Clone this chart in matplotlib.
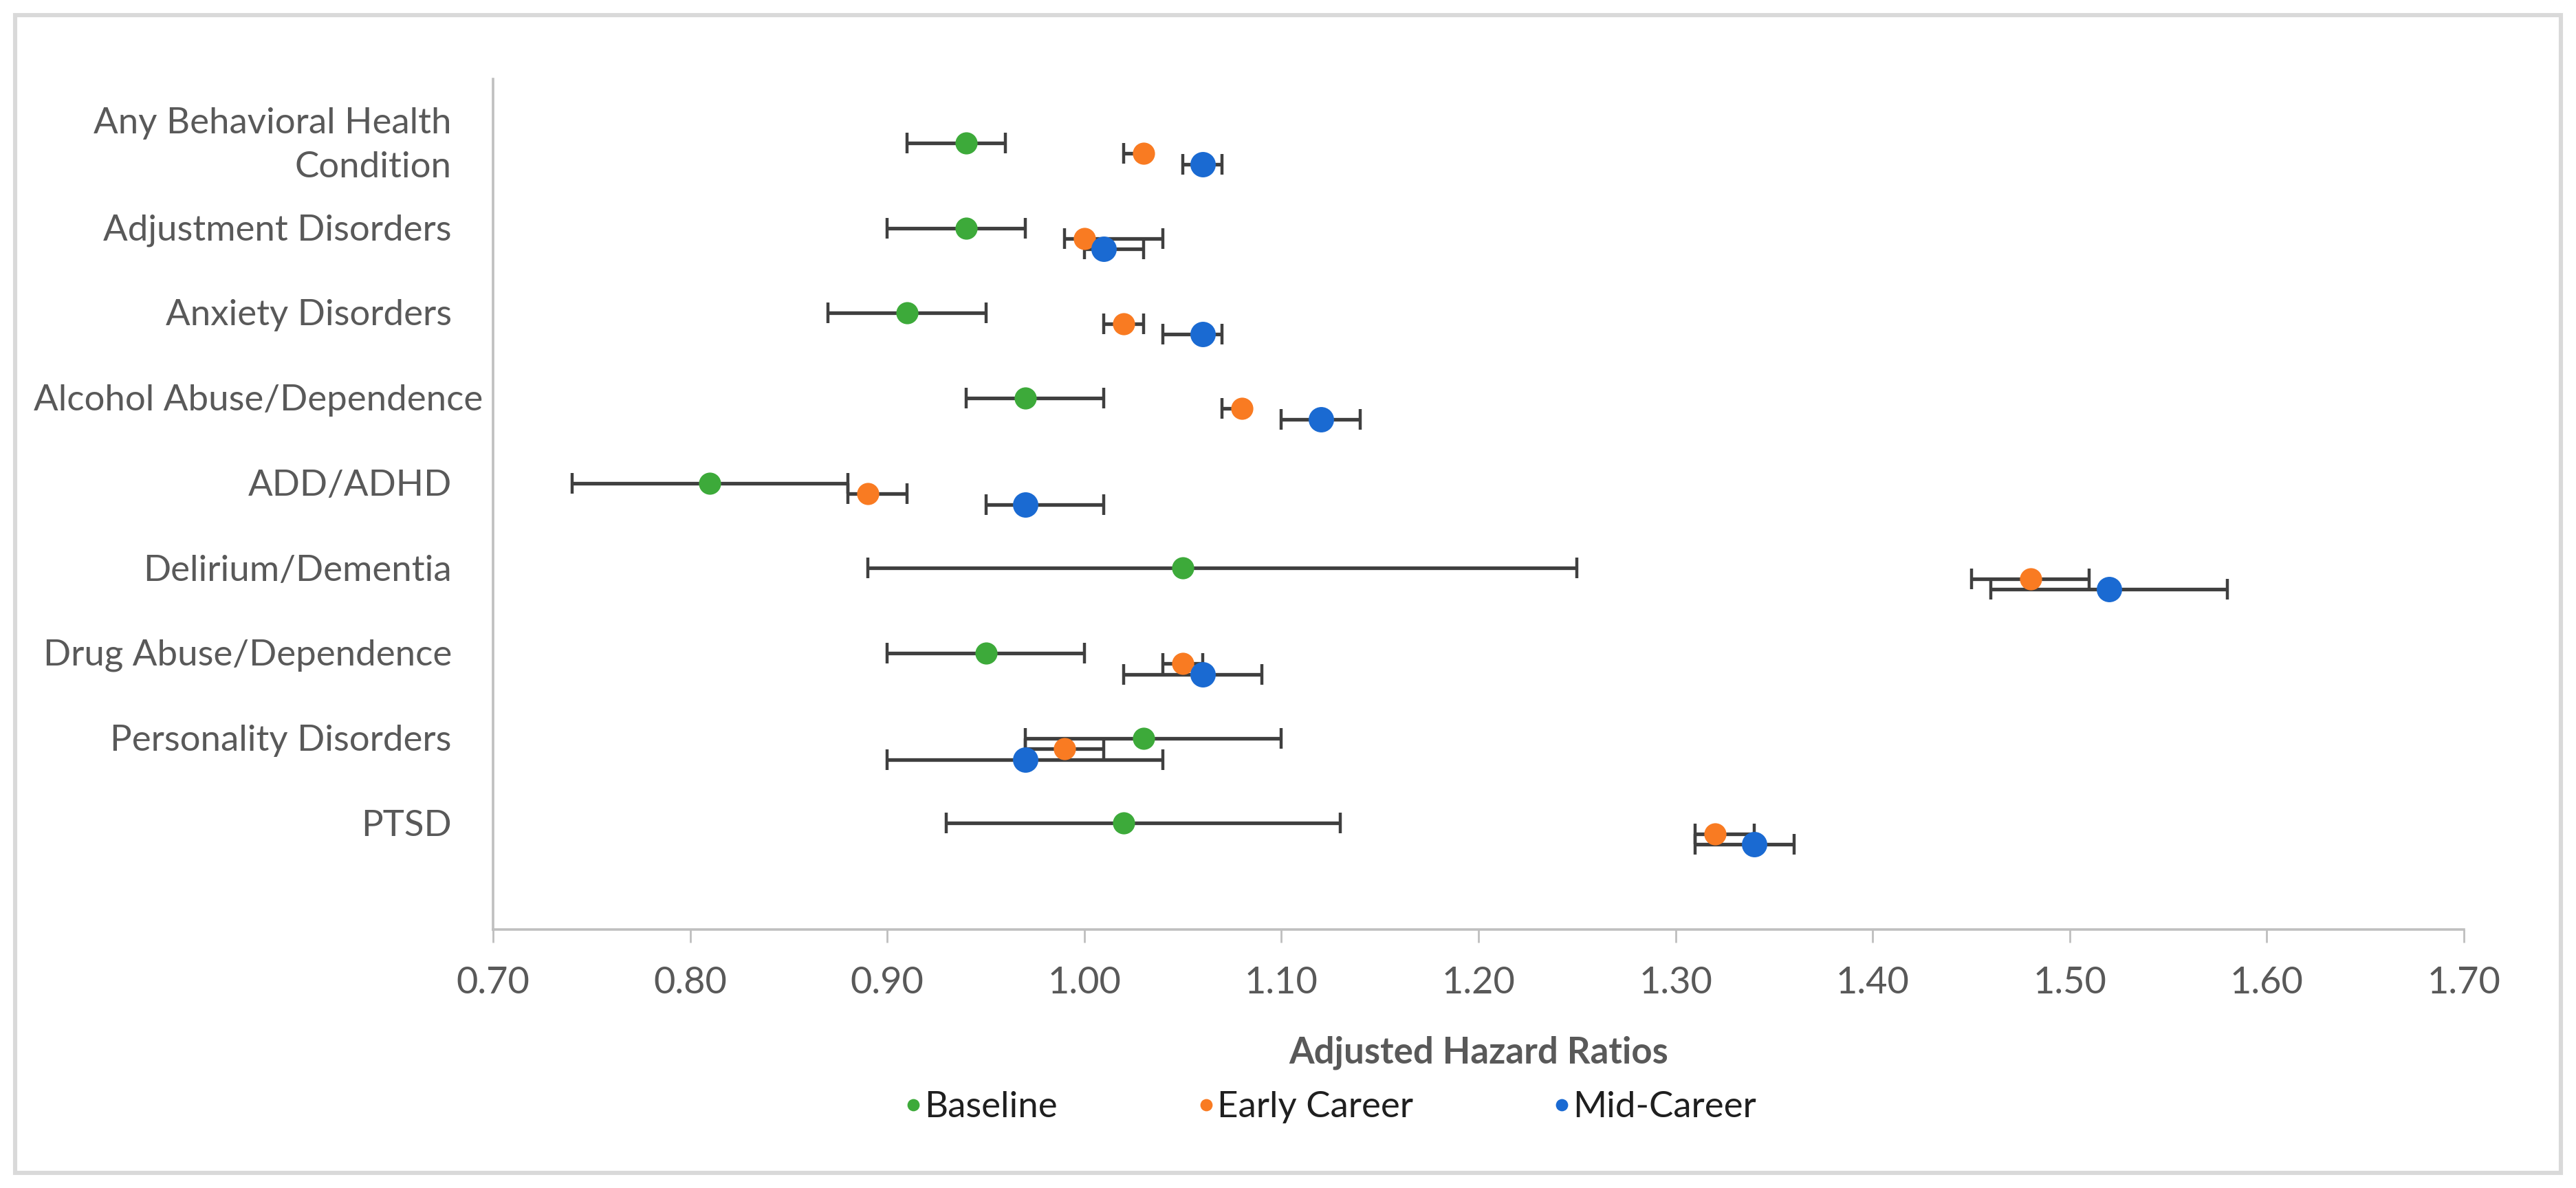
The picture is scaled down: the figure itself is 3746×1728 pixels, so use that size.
import numpy as np
import matplotlib.pyplot as plt
from matplotlib.patches import Rectangle
from matplotlib.lines import Line2D

plt.rcParams['font.family'] = ['Lato', 'DejaVu Sans']

categories = ['Any Behavioral Health\nCondition', 'Adjustment Disorders', 'Anxiety Disorders',
              'Alcohol Abuse/Dependence', 'ADD/ADHD', 'Delirium/Dementia',
              'Drug Abuse/Dependence', 'Personality Disorders', 'PTSD']

base = [0.94, 0.94, 0.91, 0.97, 0.81, 1.05, 0.95, 1.03, 1.02]
base_lo = [0.91, 0.90, 0.87, 0.94, 0.74, 0.89, 0.90, 0.97, 0.93]
base_hi = [0.96, 0.97, 0.95, 1.01, 0.88, 1.25, 1.00, 1.10, 1.13]

early = [1.03, 1.00, 1.02, 1.08, 0.89, 1.48, 1.05, 0.99, 1.32]
early_lo = [1.02, 0.99, 1.01, 1.07, 0.88, 1.45, 1.04, 0.97, 1.31]
early_hi = [1.03, 1.04, 1.03, 1.08, 0.91, 1.51, 1.06, 1.01, 1.34]

mid = [1.06, 1.01, 1.06, 1.12, 0.97, 1.52, 1.06, 0.97, 1.34]
mid_lo = [1.05, 1.00, 1.04, 1.10, 0.95, 1.46, 1.02, 0.90, 1.31]
mid_hi = [1.07, 1.03, 1.07, 1.14, 1.01, 1.58, 1.09, 1.04, 1.36]

xticks = [0.70, 0.80, 0.90, 1.00, 1.10, 1.20, 1.30, 1.40, 1.50, 1.60, 1.70]

c_base = '#3DAA3A'
c_early = '#F97B22'
c_mid = '#1A6AD2'
txt = '#595959'

fig = plt.figure(figsize=(18.73, 8.64), dpi=200)
ax = fig.add_axes([0.1914, 0.2176, 0.7651, 0.7158])

ypos = np.arange(len(categories), 0, -1).astype(float)

series = [
    ('Baseline', base, base_lo, base_hi, ypos + 0.25, c_base, 11.6),
    ('Early Career', early, early_lo, early_hi, ypos + 0.125, c_early, 11.6),
    ('Mid-Career', mid, mid_lo, mid_hi, ypos, c_mid, 13.3),
]

for name, v, lo, hi, yy, col, ms in series:
    v = np.array(v)
    err = [v - np.array(lo), np.array(hi) - v]
    ax.errorbar(v, yy, xerr=err, fmt='none', ecolor='#3F3F3F', elinewidth=1.9,
                capsize=5.5, capthick=1.6, zorder=2)
for name, v, lo, hi, yy, col, ms in series:
    ax.plot(v, yy, 'o', color=col, markersize=ms, markeredgewidth=0, zorder=3)

ax.set_xlim(0.70, 1.70)
ax.set_ylim(0, 10)
ax.set_xticks(xticks)
ax.set_xticklabels(['%.2f' % t for t in xticks], fontsize=19.5, color=txt)
ax.set_yticks([])

for s in ['top', 'right']:
    ax.spines[s].set_visible(False)
ax.spines['left'].set_color('#BFBFBF')
ax.spines['bottom'].set_color('#BFBFBF')
ax.spines['left'].set_linewidth(1.3)
ax.spines['bottom'].set_linewidth(1.3)
ax.tick_params(axis='x', length=7, width=1.0, color='#BFBFBF', pad=12)

for i, lab in enumerate(categories):
    lx = -0.005 if lab.startswith('Alcohol') else -0.021
    ax.text(lx, ypos[i] + 0.22, lab, transform=ax.get_yaxis_transform(),
            ha='right', va='center', fontsize=19, color=txt, linespacing=1.45)

fig.text(0.574, 0.114, 'Adjusted Hazard Ratios', ha='center', va='center',
         fontsize=19, fontweight='bold', color=txt)

handles = [Line2D([], [], marker='o', linestyle='none', color=c, markersize=5.4)
           for c in [c_base, c_early, c_mid]]
fig.legend(handles, ['Baseline', 'Early Career', 'Mid-Career'], loc='center',
           bbox_to_anchor=(0.516, 0.068), ncol=3, frameon=False, fontsize=19,
           labelcolor='#1F1F1F', handletextpad=0.0, columnspacing=3.8,
           handlelength=0.6)

fig.patches.append(Rectangle((0.006, 0.013), 0.988, 0.974, transform=fig.transFigure,
                             fill=False, edgecolor='#D9D9D9', linewidth=2.2))

fig.savefig('out.png', dpi=200)
